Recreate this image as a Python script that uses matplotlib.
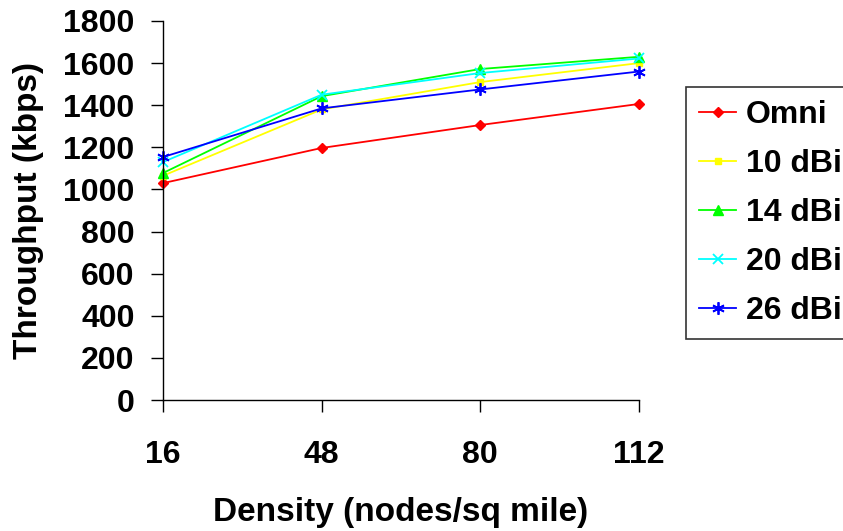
import matplotlib
matplotlib.use("Agg")
import matplotlib.pyplot as plt

categories = ["16", "48", "80", "112"]
omni = [1030, 1197, 1306, 1406]
dbi10 = [1065, 1380, 1510, 1600]
dbi14 = [1078, 1443, 1572, 1630]
dbi20 = [1130, 1450, 1553, 1622]
dbi26 = [1154, 1385, 1475, 1560]
series_names = ["Omni", "10 dBi", "14 dBi", "20 dBi", "26 dBi"]
yticks = [0, 200, 400, 600, 800, 1000, 1200, 1400, 1600, 1800]

plt.rcParams['font.family'] = ['Liberation Sans', 'DejaVu Sans']
plt.rcParams['font.weight'] = 'bold'

fig = plt.figure(figsize=(8.43, 5.31), dpi=100)
ax = fig.add_axes([163/843, 1-400/531, (639-163)/843, (400-21)/531])

x = list(range(len(categories)))
styles = [
    dict(color='#FF0000', marker='D', ms=5),
    dict(color='#FFFF00', marker='s', ms=5),
    dict(color='#00FF00', marker='^', ms=7),
    dict(color='#00FFFF', marker='x', ms=7, mew=1.3),
    dict(color='#0000FF', marker=(6, 2, 0), ms=9, mew=1.3),
]
for name, vals, st in zip(series_names, [omni, dbi10, dbi14, dbi20, dbi26], styles):
    ax.plot(x, vals, lw=1.3, label=name, clip_on=False, **st)

ax.set_xlim(0, 3)
ax.set_ylim(0, 1800)
ax.set_xticks(x)
ax.set_xticklabels(categories, fontsize=23, fontweight='bold')
ax.set_yticks(yticks)
ax.set_yticklabels([str(v) for v in yticks], fontsize=23, fontweight='bold')
ax.tick_params(axis='both', direction='out', length=8.5, width=1, color='black')
ax.tick_params(axis='x', pad=20)
ax.tick_params(axis='y', pad=12)
ax.spines['top'].set_visible(False)
ax.spines['right'].set_visible(False)
ax.spines['left'].set_linewidth(1)
ax.spines['bottom'].set_linewidth(1)

ax.set_xlabel("Density (nodes/sq mile)", fontsize=24, fontweight='bold', labelpad=20)
ax.set_ylabel("Throughput (kbps)", fontsize=24, fontweight='bold', labelpad=14)

leg = fig.legend(loc='upper left', bbox_to_anchor=(686/843, 1-87/531),
                 fontsize=23, frameon=True, fancybox=False, edgecolor='black',
                 handlelength=1.15, handletextpad=0.3, labelspacing=0.59,
                 borderpad=0.42, borderaxespad=0)
leg.get_frame().set_linewidth(1.2)
for t in leg.get_texts():
    t.set_fontweight('bold')

fig.savefig("out.png", dpi=100)
